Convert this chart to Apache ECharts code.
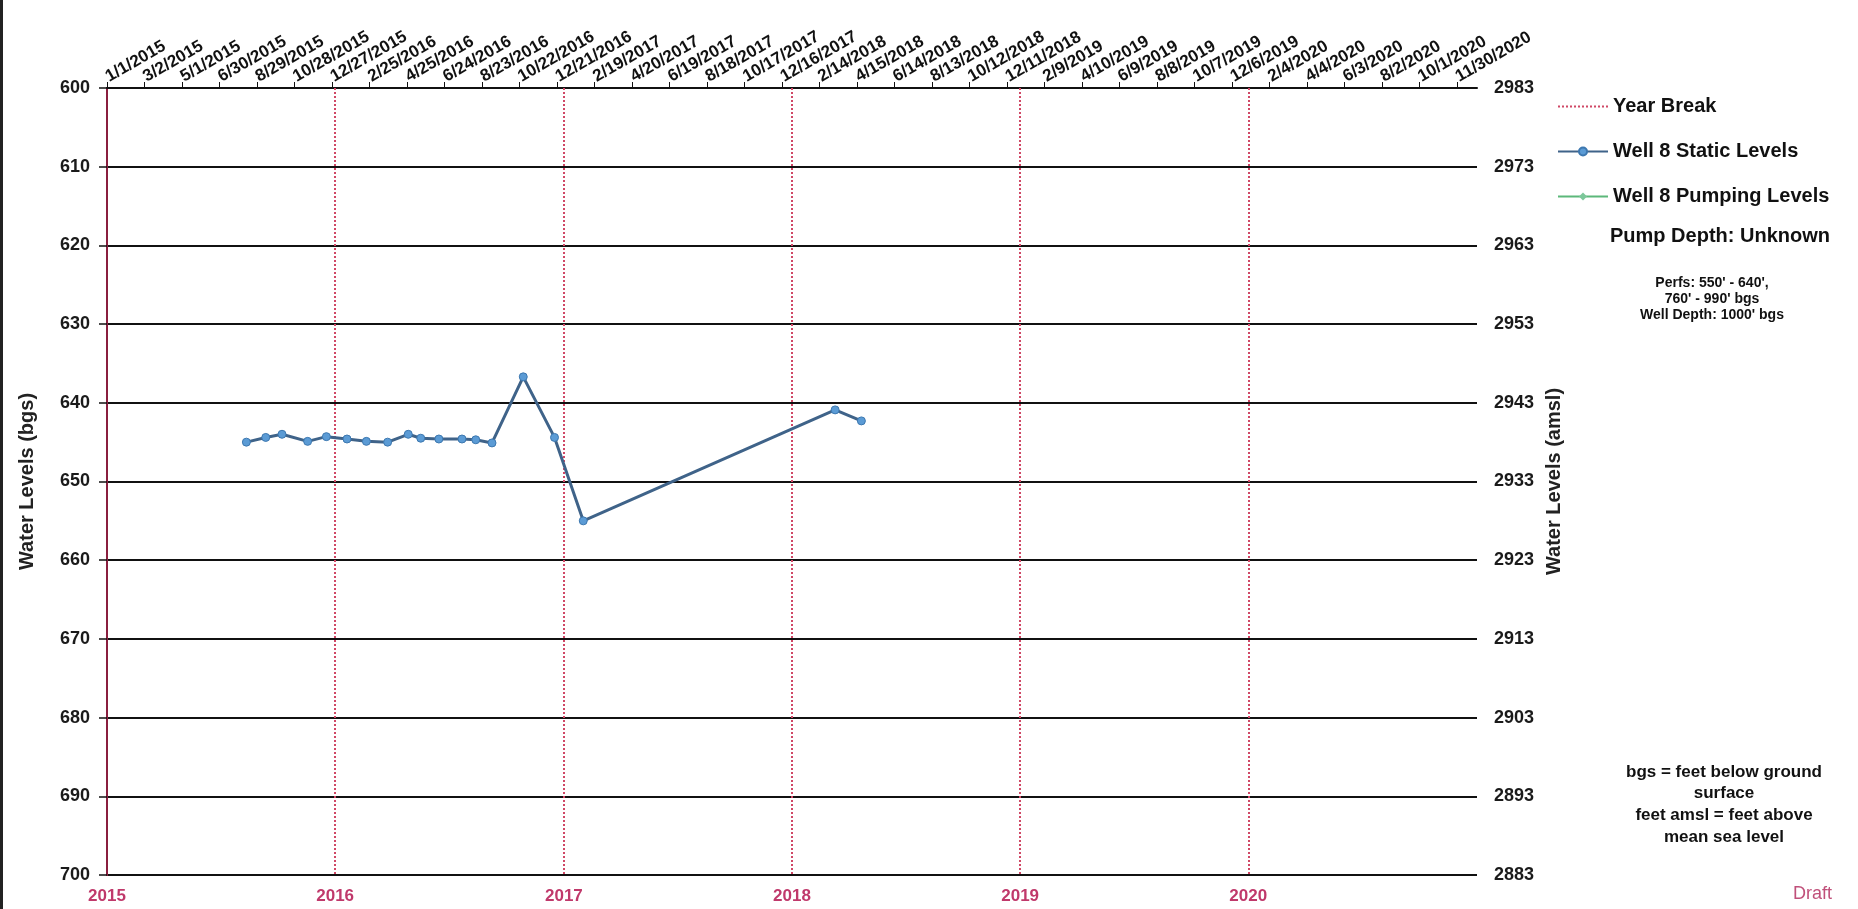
<!DOCTYPE html>
<html>
<head>
<meta charset="utf-8">
<script src="https://cdn.jsdelivr.net/npm/echarts@6/dist/echarts.min.js"></script>
<style>
html,body{margin:0;padding:0;background:#fff;}
#chart{width:1858px;height:909px;}
</style>
</head>
<body>
<div id="chart"></div>
<script>
// ---- data ----
const staticDates = ['2015-08-12','2015-09-12','2015-10-08','2015-11-18','2015-12-18','2016-01-20','2016-02-20','2016-03-25','2016-04-27','2016-05-17','2016-06-15','2016-07-22','2016-08-13','2016-09-08','2016-10-28','2016-12-17','2017-02-01','2018-03-11','2018-04-22'];
const staticLevels = [645.0,644.4,644.0,644.9,644.3,644.6,644.9,645.0,644.0,644.5,644.6,644.6,644.7,645.1,636.7,644.4,655.0,640.9,642.3];
const pumpingDates = [];
const pumpingLevels = [];
const yearLabels = ['2015','2016','2017','2018','2019','2020'];
const yearBreakYears = [2016,2017,2018,2019,2020];
const topTickLabels = ['1/1/2015','3/2/2015','5/1/2015','6/30/2015','8/29/2015','10/28/2015','12/27/2015','2/25/2016','4/25/2016','6/24/2016','8/23/2016','10/22/2016','12/21/2016','2/19/2017','4/20/2017','6/19/2017','8/18/2017','10/17/2017','12/16/2017','2/14/2018','4/15/2018','6/14/2018','8/13/2018','10/12/2018','12/11/2018','2/9/2019','4/10/2019','6/9/2019','8/8/2019','10/7/2019','12/6/2019','2/4/2020','4/4/2020','6/3/2020','8/2/2020','10/1/2020','11/30/2020'];
const amslOffset = 3583; // amsl = 3583 - bgs

// ---- helpers ----
const DAY = 86400000;
const origin = Date.UTC(2015,0,1);
function dayOff(s){ const p=s.split('-').map(Number); return (Date.UTC(p[0],p[1]-1,p[2])-origin)/DAY; }
function yearOff(y){ return (Date.UTC(y,0,1)-origin)/DAY; }
const totalDays = yearOff(2021);
const yearOffsets = yearLabels.map(y=>yearOff(Number(y)));
const FONT = "'Liberation Sans', Arial, sans-serif";

const chart = echarts.init(document.getElementById('chart'), null, {renderer:'canvas'});
const option = {
  backgroundColor:'#fff',
  animation:false,
  textStyle:{fontFamily:FONT},
  grid:{left:107,right:381,top:88,bottom:34,containLabel:false},
  legend:{
    orient:'vertical', left:1552, top:90, itemWidth:50, itemHeight:10, itemGap:22,
    textStyle:{fontSize:20,fontWeight:'bold',color:'#111',fontFamily:FONT,lineHeight:23},
    data:[{name:'Year Break',itemStyle:{opacity:0}},'Well 8 Static Levels','Well 8 Pumping Levels']
  },
  xAxis:[
    {
      type:'value', position:'bottom', min:0, max:totalDays,
      axisLine:{show:false}, axisTick:{show:false}, splitLine:{show:false},
      axisLabel:{
        customValues:yearOffsets,
        formatter:function(v){ const i=yearOffsets.indexOf(v); return i>=0?yearLabels[i]:''; },
        color:'#c0396b', fontSize:17, fontWeight:'bold', margin:13, fontFamily:FONT
      }
    },
    {
      type:'value', position:'top', min:0, max:totalDays, interval:60,
      axisLine:{show:true,lineStyle:{color:'#111',width:2}},
      axisTick:{show:true,length:6,lineStyle:{color:'#111',width:1}},
      splitLine:{show:false},
      axisLabel:{
        rotate:-30, margin:10, fontSize:17, fontWeight:'bold', color:'#111', fontFamily:FONT,
        showMaxLabel:false,
        formatter:function(v){ if(v%60!==0) return ''; const i=v/60; return i<topTickLabels.length?topTickLabels[i]:''; }
      }
    }
  ],
  yAxis:[
    {
      type:'value', inverse:true, min:600, max:700, interval:10, position:'left',
      name:'Water Levels (bgs)', nameLocation:'middle', nameGap:70, nameRotate:90,
      nameTextStyle:{fontSize:20,fontWeight:'bold',color:'#222',fontFamily:FONT},
      axisLine:{show:true,lineStyle:{color:'#8a1f3f',width:2}},
      axisTick:{show:true,length:8,lineStyle:{color:'#111',width:1.5}},
      axisLabel:{fontSize:18,fontWeight:'bold',color:'#1a1a1a',margin:17,fontFamily:FONT},
      splitLine:{show:true,lineStyle:{color:'#111',width:2}}
    },
    {
      type:'value', inverse:true, min:600, max:700, interval:10, position:'right',
      name:'Water Levels (amsl)', nameLocation:'middle', nameGap:62, nameRotate:90,
      nameTextStyle:{fontSize:20,fontWeight:'bold',color:'#222',fontFamily:FONT},
      axisLine:{show:true,lineStyle:{color:'#8a1f3f',width:2}},
      axisTick:{show:false},
      axisLabel:{fontSize:18,fontWeight:'bold',color:'#1a1a1a',margin:17,fontFamily:FONT,
        formatter:function(v){ return String(amslOffset - v); }},
      splitLine:{show:false}
    }
  ],
  series:[
    {
      name:'Year Break', type:'line', xAxisIndex:0, yAxisIndex:0, data:[],
      symbol:'none',
      lineStyle:{color:'#d04866',type:'dotted',width:2},
      itemStyle:{color:'#d04866'},
      markLine:{
        silent:true, symbol:['none','none'], label:{show:false},
        lineStyle:{color:'#d04866',type:'dotted',width:2},
        data:yearBreakYears.map(y=>({xAxis:yearOff(y)}))
      },
      z:1
    },
    {
      name:'Well 8 Static Levels', type:'line', xAxisIndex:0, yAxisIndex:0,
      data:staticDates.map((d,i)=>[dayOff(d),staticLevels[i]]),
      symbol:'circle', symbolSize:8,
      lineStyle:{color:'#3f6389',width:3},
      itemStyle:{color:'#5b9bd5',borderColor:'#3d78b0',borderWidth:1},
      z:5
    },
    {
      name:'Well 8 Pumping Levels', type:'line', xAxisIndex:0, yAxisIndex:0,
      data:pumpingDates.map((d,i)=>[dayOff(d),pumpingLevels[i]]),
      symbol:'diamond', symbolSize:9,
      lineStyle:{color:'#5cb87a',width:3},
      itemStyle:{color:'#7cc79a',borderColor:'#4aa86a'},
      z:4
    }
  ],
  graphic:[
    {type:'rect',left:0,top:0,shape:{width:3,height:909},style:{fill:'#222'}},
    {type:'text',left:1610,top:226,style:{text:'Pump Depth: Unknown',font:"bold 20px "+FONT,fill:'#111'}},
    {type:'text',x:1712,y:275,style:{text:"Perfs: 550' - 640',\n760' - 990' bgs\nWell Depth: 1000' bgs",font:"bold 14px "+FONT,fill:'#111',align:'center',lineHeight:16}},
    {type:'text',x:1724,y:761,style:{text:'bgs = feet below ground\nsurface\nfeet amsl = feet above\nmean sea level',font:"bold 17px "+FONT,fill:'#111',align:'center',lineHeight:21.7}},
    {type:'text',x:1793,y:885,style:{text:'Draft',font:"18px "+FONT,fill:'#c0507a'}}
  ]
};
chart.setOption(option);
</script>
</body>
</html>
